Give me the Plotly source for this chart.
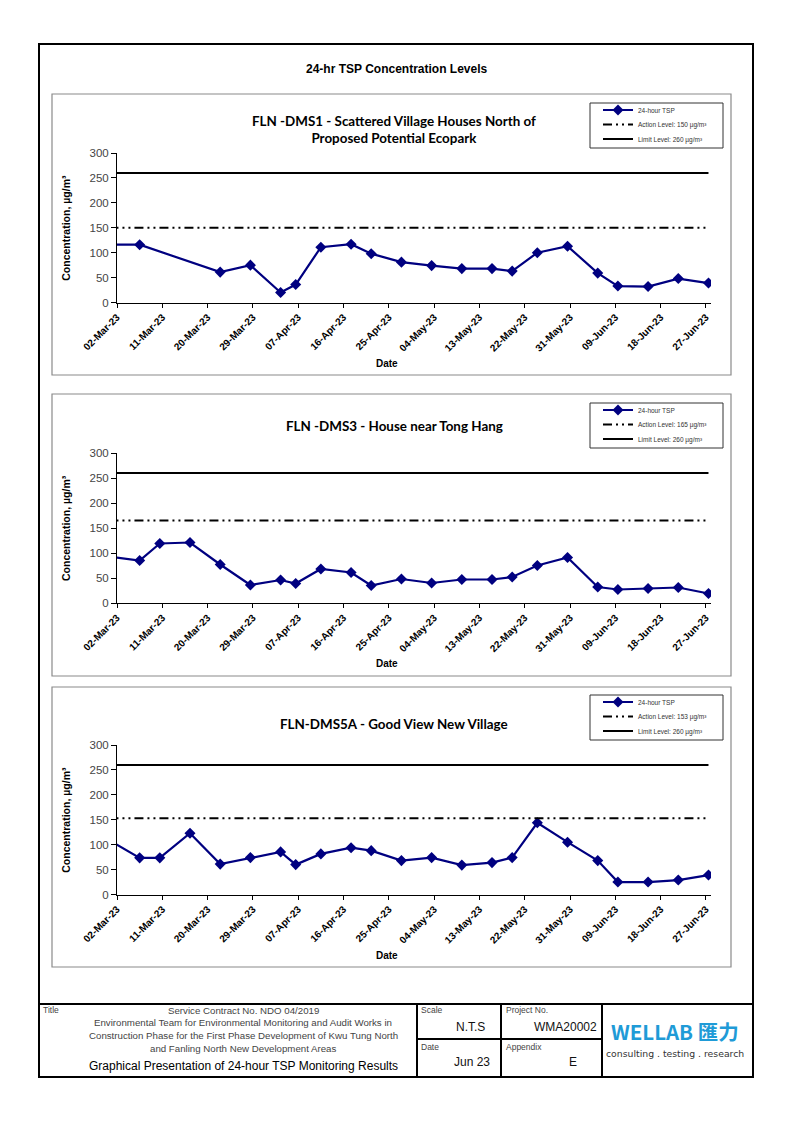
import pandas as pd
import plotly.graph_objects as go

W, H = 794, 1123
PAGE_OFFSET = 8  # default body margin of the html page

# ---------------- data ----------------
dms1_dates = ["2023-02-28", "2023-03-06", "2023-03-22", "2023-03-28", "2023-04-03", "2023-04-06",
              "2023-04-11", "2023-04-17", "2023-04-21", "2023-04-27", "2023-05-03", "2023-05-09",
              "2023-05-15", "2023-05-19", "2023-05-24", "2023-05-30", "2023-06-05", "2023-06-09",
              "2023-06-15", "2023-06-21", "2023-06-27"]
dms1_tsp = [116, 116, 61, 75, 20, 36, 111, 117, 98, 81, 74, 68, 68, 63, 100, 113, 59, 33, 32, 48, 39]

dms3_dates = ["2023-02-28", "2023-03-06", "2023-03-10", "2023-03-16", "2023-03-22", "2023-03-28",
              "2023-04-03", "2023-04-06", "2023-04-11", "2023-04-17", "2023-04-21", "2023-04-27",
              "2023-05-03", "2023-05-09", "2023-05-15", "2023-05-19", "2023-05-24", "2023-05-30",
              "2023-06-05", "2023-06-09", "2023-06-15", "2023-06-21", "2023-06-27"]
dms3_tsp = [92.6, 85, 119, 121, 77, 36, 46, 39, 68, 61, 35, 48, 40, 47, 47, 52, 75, 91, 32, 27, 29, 31, 19]

dms5a_dates = dms3_dates
dms5a_tsp = [108.8, 73.5, 73.5, 123, 61, 74, 85.5, 60, 81.5, 94, 88, 68, 74, 59, 64, 74, 144, 105, 68,
             25, 25, 29, 39]

action_levels = [150, 165, 153]
limit_level = 260

station_titles = ["FLN -DMS1 - Scattered Village Houses North of<br>Proposed Potential Ecopark",
                  "FLN -DMS3 - House near Tong Hang",
                  "FLN-DMS5A - Good View New Village"]

x_ticks = ["2023-03-02", "2023-03-11", "2023-03-20", "2023-03-29", "2023-04-07", "2023-04-16",
           "2023-04-25", "2023-05-04", "2023-05-13", "2023-05-22", "2023-05-31", "2023-06-09",
           "2023-06-18", "2023-06-27"]
x_range = ["2023-03-02", "2023-06-28"]
y_ticks = [0, 50, 100, 150, 200, 250, 300]

# ---------------- helpers ----------------
def X(px):
    return (px - PAGE_OFFSET) / W


def Y(py):
    return 1 - (py - PAGE_OFFSET) / H


def noon(dates):
    # Excel date axis "between tick marks": values sit in the middle of each day
    return pd.to_datetime(dates) + pd.Timedelta(hours=12)


fig = go.Figure()

panels = [
    dict(dates=dms1_dates, tsp=dms1_tsp, top=153, bottom=302.5, box=(52, 94, 731, 375),
         leg=(590, 103, 723, 148), title_y=129, date_y=363),
    dict(dates=dms3_dates, tsp=dms3_tsp, top=453, bottom=603, box=(52, 394, 731, 676),
         leg=(590, 403, 723, 448), title_y=426, date_y=663),
    dict(dates=dms5a_dates, tsp=dms5a_tsp, top=745, bottom=894.5, box=(52, 687, 731, 967),
         leg=(590, 695, 723, 740), title_y=724, date_y=955),
]

shapes = []
annotations = []
legend_count = 0


def next_legend():
    global legend_count
    legend_count += 1
    return "legend" if legend_count == 1 else f"legend{legend_count}"


for i, p in enumerate(panels):
    n = "" if i == 0 else str(i + 1)
    xa, ya = "x" + n, "y" + n
    d = noon(p["dates"])
    al = action_levels[i]
    lx0, ly0, lx1, ly1 = p["leg"]

    series = [
        dict(y=p["tsp"], mode="lines+markers", name="24-hour TSP",
             line=dict(color="#000080", width=2.2),
             marker=dict(symbol="diamond", size=8.5, color="#000080")),
        dict(y=[al] * len(d), mode="lines", name=f"Action Level: {al} µg/m³",
             line=dict(color="black", width=2, dash="9px,4px,2px,4px,2px,4px")),
        dict(y=[limit_level] * len(d), mode="lines", name=f"Limit Level: {limit_level} µg/m³",
             line=dict(color="black", width=2)),
    ]
    for k, s in enumerate(series):
        leg = next_legend()
        fig.add_trace(go.Scatter(x=d, xaxis=xa, yaxis=ya, legend=leg, showlegend=True, **s))
        fig.update_layout(**{leg: dict(
            x=X(lx0 + 8), y=Y(ly0 + 7 + 14.5 * k), xanchor="left", yanchor="middle",
            font=dict(family="Arial", size=6.5, color="#333333"),
            bgcolor="rgba(0,0,0,0)", borderwidth=0, itemwidth=30)})

    fig.update_layout(**{
        "xaxis" + n: dict(
            domain=[X(117), X(711)], anchor=ya, type="date", range=x_range, automargin=False,
            tickmode="array", tickvals=x_ticks, tickformat="%d-%b-%y", tickangle=-45,
            tickfont=dict(family="Arial", size=10, color="black", weight="bold"),
            showline=True, linecolor="black", linewidth=1, ticks="outside", ticklen=4,
            tickcolor="black", showgrid=False, zeroline=False, fixedrange=True),
        "yaxis" + n: dict(
            domain=[Y(p["bottom"]), Y(p["top"])], anchor=xa, range=[0, 300], automargin=False,
            tickmode="array", tickvals=y_ticks,
            tickfont=dict(family="Arial", size=11.5, color="#444444"),
            showline=True, linecolor="black", linewidth=1, ticks="outside", ticklen=5,
            tickcolor="black", showgrid=False, zeroline=False, fixedrange=True),
    })

    x0, y0, x1, y1 = p["box"]
    shapes.append(dict(type="rect", xref="paper", yref="paper", x0=X(x0), x1=X(x1), y0=Y(y0), y1=Y(y1),
                       line=dict(color="#8a8a8a", width=1.2)))
    shapes.append(dict(type="rect", xref="paper", yref="paper", x0=X(lx0), x1=X(lx1), y0=Y(ly0), y1=Y(ly1),
                       line=dict(color="#333333", width=1)))

    annotations.append(dict(text=station_titles[i], x=X(394), y=Y(p["title_y"]), xref="paper", yref="paper",
                            showarrow=False, xanchor="center", yanchor="middle",
                            font=dict(family="Lato", size=13.4, color="black", weight="bold")))
    annotations.append(dict(text="Concentration, µg/m³", x=X(66), y=Y((p["top"] + p["bottom"]) / 2),
                            xref="paper", yref="paper", showarrow=False, textangle=-90,
                            xanchor="center", yanchor="middle",
                            font=dict(family="Arial", size=10.5, color="black", weight="bold")))
    annotations.append(dict(text="Date", x=X(387), y=Y(p["date_y"]), xref="paper", yref="paper",
                            showarrow=False, xanchor="center", yanchor="middle",
                            font=dict(family="Arial", size=10, color="black", weight="bold")))

# main title
annotations.append(dict(text="24-hr TSP Concentration Levels", x=X(396), y=Y(69), xref="paper", yref="paper",
                        showarrow=False, xanchor="center", yanchor="middle",
                        font=dict(family="Arial", size=12, color="black", weight="bold")))

# outer frame and title block
blk = dict(color="black", width=2)
shapes += [
    dict(type="rect", xref="paper", yref="paper", x0=X(39), x1=X(753), y0=Y(44), y1=Y(1077), line=blk),
    dict(type="line", xref="paper", yref="paper", x0=X(39), x1=X(753), y0=Y(1004), y1=Y(1004), line=blk),
    dict(type="line", xref="paper", yref="paper", x0=X(417), x1=X(417), y0=Y(1004), y1=Y(1077), line=blk),
    dict(type="line", xref="paper", yref="paper", x0=X(501), x1=X(501), y0=Y(1004), y1=Y(1077), line=blk),
    dict(type="line", xref="paper", yref="paper", x0=X(602), x1=X(602), y0=Y(1004), y1=Y(1077), line=blk),
    dict(type="line", xref="paper", yref="paper", x0=X(417), x1=X(602), y0=Y(1039), y1=Y(1039), line=blk),
]


def txt(t, x, y, size, color="#444444", anchor="left", family="Arial", weight="normal"):
    annotations.append(dict(text=t, x=X(x), y=Y(y), xref="paper", yref="paper", showarrow=False,
                            xanchor=anchor, yanchor="middle",
                            font=dict(family=family, size=size, color=color, weight=weight)))


txt("Title", 41, 1010, 8.5)
txt("Service Contract No. NDO 04/2019", 243, 1010, 9.7, anchor="center")
txt("Environmental Team for Environmental Monitoring and Audit Works in", 243, 1022.5, 9.7, anchor="center")
txt("Construction Phase for the First Phase Development of Kwu Tung North", 243, 1035, 9.7, anchor="center")
txt("and Fanling North New Development Areas", 243, 1048, 9.7, anchor="center")
txt("Graphical Presentation of 24-hour TSP Monitoring Results", 244, 1065.5, 12, color="black", anchor="center")
txt("Scale", 419, 1010, 8.5)
txt("N.T.S", 470, 1027, 12, color="#111111", anchor="center")
txt("Date", 419, 1047, 8.5)
txt("Jun 23", 472, 1062, 12, color="#111111", anchor="center")
txt("Project No.", 504, 1010, 8.5)
txt("WMA20002", 599, 1027, 12, color="#111111", anchor="right")
txt("Appendix", 504, 1047, 8.5)
txt("E", 573, 1062, 12, color="#111111", anchor="center")
txt("WELLAB 匯力", 675, 1031, 20.5, color="#1f9bd7", anchor="center", family="Noto Sans CJK SC", weight="bold")
txt("consulting . testing . research", 675, 1053, 9.3, color="#333333", anchor="center",
    family="DejaVu Sans")

fig.update_layout(width=W, height=H, margin=dict(l=0, r=0, t=0, b=0, autoexpand=False),
                  paper_bgcolor="white", plot_bgcolor="white",
                  shapes=shapes, annotations=annotations)

fig.write_html("out.html")
